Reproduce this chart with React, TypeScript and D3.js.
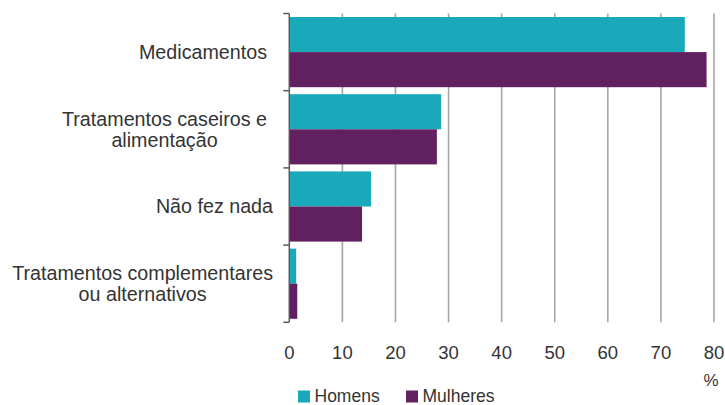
import React, { useEffect, useRef } from 'react';
import * as d3 from 'd3';

const categories = [
  'Medicamentos',
  'Tratamentos caseiros e|alimentação',
  'Não fez nada',
  'Tratamentos complementares|ou alternativos',
];
const homens = [74.5, 28.6, 15.4, 1.3];
const mulheres = [78.6, 27.8, 13.7, 1.5];
const seriesNames = ['Homens', 'Mulheres'];
const seriesColors = ['#19a9bb', '#612060'];
const xTicks = [0, 10, 20, 30, 40, 50, 60, 70, 80];

const App: React.FC = () => {
  const svgRef = useRef<SVGSVGElement>(null);

  useEffect(() => {
    if (!svgRef.current) return;
    const svg = d3.select(svgRef.current);
    svg.selectAll('*').remove();

    const font = '"Liberation Sans", Arial, sans-serif';
    const textColor = '#333';
    const left = 289.3, right = 714, top = 13.5, bottom = 322.3;

    const x = d3.scaleLinear().domain([0, 80]).range([left, right]);
    const y = d3.scaleBand<number>()
      .domain(d3.range(categories.length))
      .range([top, bottom])
      .paddingInner(0)
      .paddingOuter(0);
    const inner = d3.scaleBand<number>()
      .domain([0, 1])
      .range([0, y.bandwidth()])
      .paddingOuter(0.1)
      .paddingInner(0);

    // gridlines
    svg.append('g')
      .selectAll('line')
      .data(xTicks.slice(1))
      .join('line')
      .attr('x1', d => x(d)).attr('x2', d => x(d))
      .attr('y1', top).attr('y2', bottom)
      .attr('stroke', '#a6a6a6')
      .attr('stroke-width', 1.6);

    // bars
    const rows = categories.map((c, i) => [homens[i], mulheres[i]]);
    rows.forEach((vals, i) => {
      vals.forEach((v, s) => {
        svg.append('rect')
          .attr('x', x(0))
          .attr('y', (y(i) as number) + (inner(s) as number))
          .attr('width', x(v) - x(0))
          .attr('height', inner.bandwidth())
          .attr('fill', seriesColors[s]);
      });
    });

    // left axis
    const axis = svg.append('g').attr('stroke', '#5a5a5a').attr('stroke-width', 1.5);
    axis.append('line')
      .attr('x1', left).attr('x2', left)
      .attr('y1', top).attr('y2', bottom);
    d3.range(categories.length + 1).forEach(i => {
      const yy = i < categories.length ? (y(i) as number) : bottom;
      axis.append('line')
        .attr('x1', left - 6).attr('x2', left)
        .attr('y1', yy).attr('y2', yy);
    });

    // category labels (first two have a trailing space in the original)
    const labelRight = 273;
    const lineH = 21;
    categories.forEach((c, i) => {
      const lines = c.split('|');
      const cy = (y(i) as number) + y.bandwidth() / 2;
      const g = svg.append('g');
      const texts = lines.map((l, k) =>
        g.append('text')
          .attr('y', cy + (k - (lines.length - 1) / 2) * lineH)
          .attr('dy', '0.35em')
          .attr('text-anchor', 'middle')
          .attr('font-family', font)
          .attr('font-size', 19.7)
          .attr('fill', textColor)
          .text(l)
      );
      const w = d3.max(texts, t => (t.node() as SVGTextElement).getComputedTextLength()) || 0;
      const adj = i < 2 ? 6 : 0;
      texts.forEach(t => t.attr('x', labelRight - adj - w / 2));
    });

    // x tick labels
    svg.append('g')
      .selectAll('text')
      .data(xTicks)
      .join('text')
      .attr('x', d => x(d))
      .attr('y', 359)
      .attr('text-anchor', 'middle')
      .attr('font-family', font)
      .attr('font-size', 18.5)
      .attr('fill', textColor)
      .text(d => String(d));

    svg.append('text')
      .attr('x', x(80) - 3)
      .attr('y', 386)
      .attr('text-anchor', 'middle')
      .attr('font-family', font)
      .attr('font-size', 17)
      .attr('fill', textColor)
      .text('%');

    // legend
    const legendX = [298, 406];
    seriesNames.forEach((name, s) => {
      svg.append('rect')
        .attr('x', legendX[s]).attr('y', 390.5)
        .attr('width', 12).attr('height', 12)
        .attr('fill', seriesColors[s]);
      svg.append('text')
        .attr('x', legendX[s] + 16.5)
        .attr('y', 402)
        .attr('font-family', font)
        .attr('font-size', 17.5)
        .attr('fill', textColor)
        .text(name);
    });
  }, []);

  return (
    <svg
      ref={svgRef}
      width={725}
      height={405}
      style={{ position: 'absolute', left: 0, top: 0, background: '#fff' }}
    />
  );
};

export default App;
